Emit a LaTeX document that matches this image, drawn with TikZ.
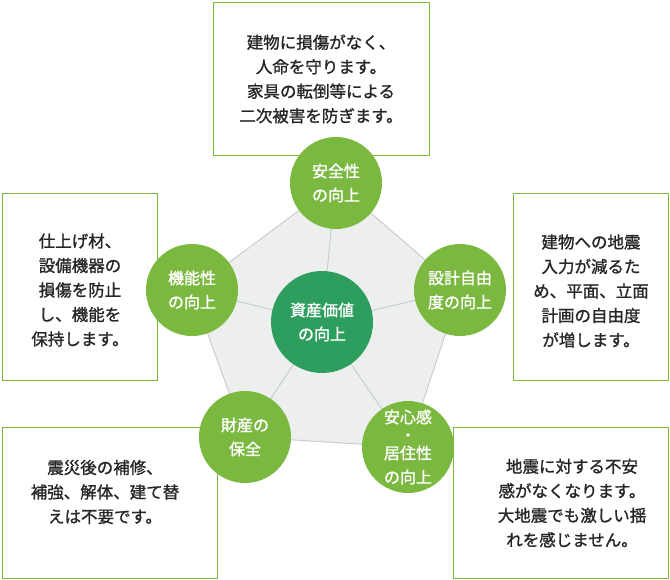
\documentclass[tikz,border=0pt]{standalone}
\usepackage{fontspec}
\setmainfont{Noto Sans CJK JP}
\newfontfamily\boldish[FakeBold=1.2]{Noto Sans CJK JP}
\definecolor{lg}{HTML}{7AB83F}
\definecolor{dg}{HTML}{2E9E5E}
\definecolor{pent}{HTML}{EDEFEF}
\definecolor{pentb}{HTML}{C9CDCD}
\begin{document}
\begin{tikzpicture}[x=1pt,y=-1pt,
  box/.style={draw=lg,line width=1pt,fill=white},
  txt/.style={align=center,text=black!85,font=\fontsize{16.5}{24.5}\selectfont\boldish},
  circ/.style={circle,fill=lg,text=white,align=center,minimum size=92pt,inner sep=0pt,font=\fontsize{16}{24}\selectfont\boldish},
  spoke/.style={draw=pentb,line width=1pt}]
\useasboundingbox (0,0) rectangle (670,580);
% boxes
\node[box,minimum width=216pt,minimum height=153pt,anchor=north west] (tb) at (213,2) {};
\node[txt] (tt) at (321,79) {建物に損傷がなく、\\人命を守ります。\\家具の転倒等による\\二次被害を防ぎます。};
\node[box,minimum width=155pt,minimum height=187pt,anchor=north west] (lb) at (2,193) {};
\node[txt] (lt) at (80,290) {仕上げ材、\\設備機器の\\損傷を防止\\し、機能を\\保持します。};
\node[box,minimum width=155pt,minimum height=187pt,anchor=north west] (rb) at (513,193) {};
\node[txt] (rt) at (591,291) {建物への地震\\入力が減るた\\め、平面、立面\\計画の自由度\\が増します。};
\node[box,minimum width=215pt,minimum height=151pt,anchor=north west] (blb) at (2,427) {};
\node[txt] (blt) at (105,492) {震災後の補修、\\補強、解体、建て替\\えは不要です。};
\node[box,minimum width=215pt,minimum height=151pt,anchor=north west] (brb) at (453,427) {};
\node[txt] (brt) at (572,503) {地震に対する不安\\感がなくなります。\\大地震でも激しい揺\\れを感じません。};
% pentagon
\coordinate (p1) at (336,183);
\coordinate (p2) at (460,290);
\coordinate (p3) at (408,447);
\coordinate (p4) at (245,437);
\coordinate (p5) at (192,290);
\coordinate (c) at (322,322);
\fill[pent,draw=pentb,line width=1pt] (p1)--(p2)--(p3)--(p4)--(p5)--cycle;
\foreach \p in {p1,p2,p3,p4,p5} \draw[spoke] (c)--(\p);
\node[circ] (n1) at (p1) {安全性\\の向上};
\node[circ] (n2) at (p2) {設計自由\\度の向上};
\node[circ] (n3) at (p3) {安心感\\[-6pt]・\\[-6pt]居住性\\の向上};
\node[circ] (n4) at (p4) {財産の\\保全};
\node[circ] (n5) at (p5) {機能性\\の向上};
\node[circ,fill=dg,minimum size=102pt] (n0) at (c) {資産価値\\の向上};
\end{tikzpicture}
\end{document}
